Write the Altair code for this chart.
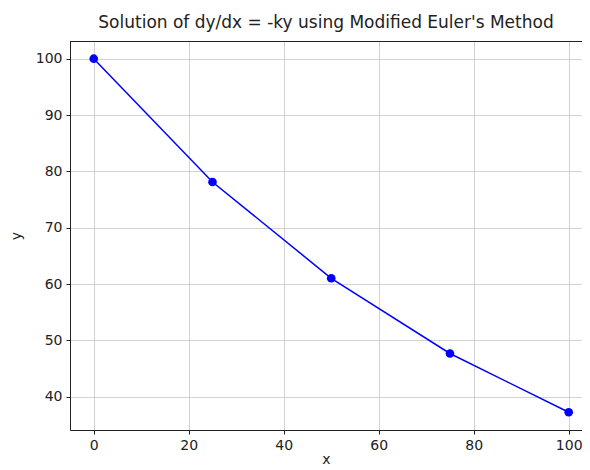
import altair as alt
import pandas as pd

x_vals = [0, 25, 50, 75, 100]
y_vals = [100.0, 78.125, 61.035, 47.684, 37.253]
x_ticks = [0, 20, 40, 60, 80, 100]
y_ticks = [40, 50, 60, 70, 80, 90, 100]

df = pd.DataFrame({"x": x_vals, "y": y_vals})

W, H = 512, 389
font = "DejaVu Sans"

xs = alt.Scale(domain=[-5, 102.8], nice=False, zero=False)
ys = alt.Scale(domain=[34.11, 103.14], nice=False, zero=False)

base = alt.Chart(df)

line = base.mark_line(color="#0000ff", strokeWidth=1.5).encode(
    x=alt.X("x:Q", scale=xs, axis=alt.Axis(values=x_ticks, title="x", grid=True,
                                              titlePadding=0, labelPadding=4)),
    y=alt.Y("y:Q", scale=ys, axis=alt.Axis(values=y_ticks, title="y", grid=True,
                                              titlePadding=12, labelPadding=4)),
)
pts = base.mark_circle(color="#0000ff", size=75, opacity=1).encode(
    x=alt.X("x:Q", scale=xs), y=alt.Y("y:Q", scale=ys)
)
top = base.mark_rule(color="#222222", strokeWidth=0.8).encode(
    x=alt.value(0), x2=alt.value(W), y=alt.value(0.5)
)

chart = alt.layer(line, pts, top).properties(
    width=W, height=H,
    title=alt.TitleParams("Solution of dy/dx = -ky using Modified Euler's Method",
                          font=font, fontSize=17, fontWeight="normal", color="#222222",
                          offset=9),
    autosize=alt.AutoSizeParams(type="none"),
    padding={"left": 62, "top": 33, "right": 0, "bottom": 38},
).configure_view(stroke=None).configure_axis(
    labelFont=font, titleFont=font, labelFontSize=14, titleFontSize=14,
    titleFontWeight="normal", labelColor="#222222", titleColor="#222222",
    domainColor="#222222", domainWidth=1, tickColor="#222222", tickSize=4,
    gridColor="#c8c8c8", gridWidth=0.8,
)

chart.save("out.html", embed_options={"renderer": "svg", "actions": False})
